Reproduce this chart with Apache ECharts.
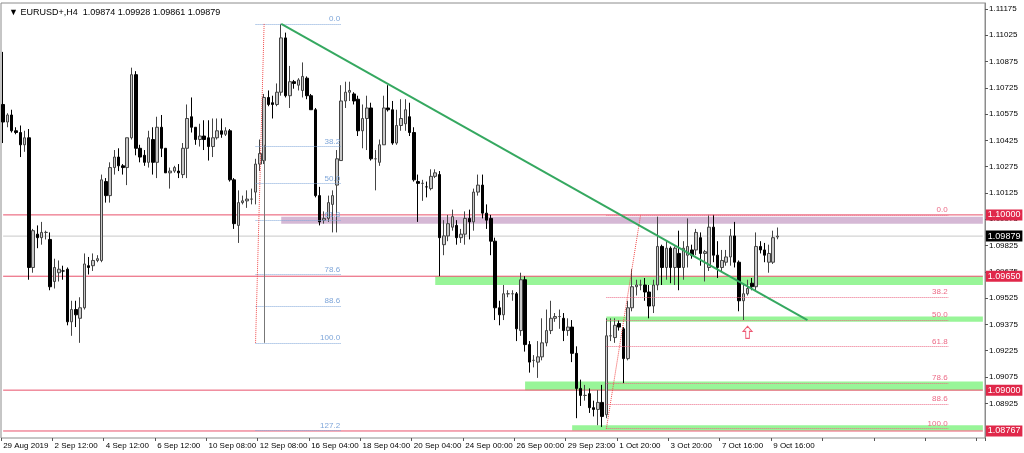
<!DOCTYPE html>
<html>
<head>
<meta charset="utf-8">
<script src="https://cdn.jsdelivr.net/npm/echarts@6/dist/echarts.min.js"></script>
<style>html,body{margin:0;padding:0;background:#fff}#main{width:1024px;height:453px}</style>
</head>
<body>
<div id="main"></div>
<script>
// candles: [open, close, low, high]
var candles = [
[1.1063,1.1053,1.1041,1.1093],[1.1053,1.1057,1.1050,1.1058],[1.1057,1.1048,1.1047,1.1060],[1.1048,1.1047,1.1046,1.1050],
[1.1047,1.1040,1.1033,1.1051],[1.1040,1.1044,1.1036,1.1048],[1.1044,1.0970,1.0963,1.1049],[1.0970,1.0991,1.0967,1.0992],
[1.0989,1.0987,1.0981,1.0994],[1.0987,1.0990,1.0983,1.0996],[1.0990,1.0990,1.0986,1.0991],[1.0986,1.0959,1.0957,1.0990],
[1.0962,1.0970,1.0958,1.0975],[1.0967,1.0969,1.0962,1.0974],[1.0968,1.0968,1.0963,1.0971],[1.0969,1.0939,1.0937,1.0970],
[1.0939,1.0946,1.0931,1.0951],[1.0946,1.0943,1.0936,1.0951],[1.0941,1.0947,1.0927,1.0953],[1.0947,1.0972,1.0946,1.0978],
[1.0971,1.0970,1.0966,1.0976],[1.0971,1.0974,1.0968,1.0978],[1.0974,1.0975,1.0973,1.0977],[1.0974,1.1020,1.0973,1.1023],
[1.1019,1.1011,1.1007,1.1021],[1.1011,1.1027,1.1007,1.1030],[1.1027,1.1033,1.1023,1.1037],[1.1033,1.1028,1.1025,1.1038],
[1.1028,1.1027,1.1023,1.1029],[1.1027,1.1044,1.1017,1.1044],[1.1044,1.1080,1.1043,1.1084],[1.1080,1.1038,1.1034,1.1082],
[1.1038,1.1033,1.1030,1.1040],[1.1034,1.1030,1.1028,1.1037],[1.1030,1.1044,1.1027,1.1048],[1.1043,1.1030,1.1023,1.1050],
[1.1030,1.1050,1.1021,1.1056],[1.1050,1.1038,1.1033,1.1057],[1.1038,1.1024,1.1024,1.1038],[1.1024,1.1025,1.1015,1.1027],
[1.1025,1.1027,1.1024,1.1028],[1.1025,1.1024,1.1021,1.1029],[1.1023,1.1038,1.1021,1.1041],[1.1038,1.1055,1.1021,1.1063],
[1.1056,1.1050,1.1047,1.1067],[1.1050,1.1043,1.1040,1.1050],[1.1043,1.1045,1.1039,1.1052],[1.1045,1.1043,1.1037,1.1054],
[1.1044,1.1039,1.1031,1.1054],[1.1039,1.1044,1.1033,1.1055],[1.1044,1.1048,1.1043,1.1055],[1.1048,1.1046,1.1044,1.1055],
[1.1046,1.1048,1.1045,1.1050],[1.1048,1.1020,1.1019,1.1049],[1.1020,1.0995,1.0992,1.1021],[1.0994,1.1007,1.0984,1.1014],
[1.1007,1.1008,1.1006,1.1011],[1.1008,1.1009,1.1004,1.1014],[1.1009,1.1009,1.1006,1.1015],[1.1013,1.1029,1.1006,1.1032],
[1.1029,1.1035,1.1025,1.1043],[1.1031,1.1067,1.1029,1.1069],[1.1067,1.1063,1.1062,1.1071],[1.1064,1.1063,1.1055,1.1068],
[1.1063,1.1070,1.1062,1.1075],[1.1070,1.1101,1.1068,1.1109],[1.1101,1.1068,1.1067,1.1104],[1.1068,1.1076,1.1061,1.1085],
[1.1076,1.1075,1.1072,1.1077],[1.1074,1.1077,1.1071,1.1078],[1.1071,1.1079,1.1067,1.1087],[1.1078,1.1068,1.1066,1.1079],
[1.1068,1.1060,1.1060,1.1069],[1.1060,1.1011,1.1010,1.1061],[1.1011,1.0996,1.0994,1.1016],[1.0997,1.0998,1.0995,1.1002],
[1.0998,1.1007,1.0996,1.1011],[1.1006,1.1011,1.0990,1.1014],[1.1017,1.1032,1.0990,1.1037],[1.1031,1.1065,1.1031,1.1074],
[1.1065,1.1070,1.1061,1.1076],[1.1070,1.1071,1.1065,1.1076],[1.1069,1.1065,1.1063,1.1070],[1.1066,1.1048,1.1045,1.1068],
[1.1048,1.1055,1.1038,1.1063],[1.1055,1.1061,1.1037,1.1068],[1.1061,1.1032,1.1031,1.1064],[1.1032,1.1032,1.1014,1.1037],
[1.1030,1.1040,1.1028,1.1043],[1.1040,1.1061,1.1040,1.1068],[1.1061,1.1060,1.1059,1.1074],[1.1060,1.1041,1.1040,1.1065],
[1.1041,1.1051,1.1040,1.1060],[1.1051,1.1055,1.1048,1.1066],[1.1052,1.1060,1.1048,1.1066],[1.1056,1.1047,1.1045,1.1064],
[1.1047,1.1020,1.1019,1.1050],[1.1019,1.1018,1.0996,1.1023],[1.1018,1.1018,1.1008,1.1020],[1.1016,1.1016,1.1010,1.1019],
[1.1015,1.1022,1.1014,1.1026],[1.1022,1.1024,1.1021,1.1026],[1.1023,1.0987,1.0965,1.1025],[1.0983,1.0988,1.0977,1.0997],
[1.0988,1.0995,1.0985,1.1000],[1.0993,1.0999,1.0991,1.1003],[1.0994,1.0987,1.0983,1.0997],[1.0987,1.0989,1.0984,1.0992],
[1.0989,1.0998,1.0983,1.1002],[1.0998,1.0996,1.0986,1.1003],[1.0996,1.1013,1.0991,1.1015],[1.1013,1.1017,1.1011,1.1023],
[1.1017,1.1001,1.0998,1.1023],[1.1001,1.0997,1.0992,1.1006],[1.0998,1.0985,1.0977,1.1000],[1.0985,1.0947,1.0940,1.0987],
[1.0947,1.0943,1.0937,1.0951],[1.0943,1.0955,1.0940,1.0960],[1.0955,1.0955,1.0953,1.0957],[1.0955,1.0955,1.0951,1.0957],
[1.0955,1.0935,1.0928,1.0956],[1.0934,1.0963,1.0931,1.0967],[1.0963,1.0926,1.0922,1.0965],[1.0926,1.0916,1.0910,1.0928],
[1.0917,1.0917,1.0913,1.0920],[1.0916,1.0919,1.0907,1.0928],[1.0919,1.0927,1.0917,1.0941],[1.0927,1.0934,1.0925,1.0946],
[1.0934,1.0941,1.0932,1.0951],[1.0941,1.0942,1.0939,1.0944],[1.0942,1.0942,1.0935,1.0946],[1.0941,1.0934,1.0928,1.0944],
[1.0934,1.0936,1.0931,1.0941],[1.0936,1.0921,1.0916,1.0940],[1.0921,1.0901,1.0884,1.0925],[1.0901,1.0897,1.0891,1.0906],
[1.0897,1.0897,1.0894,1.0903],[1.0898,1.0890,1.0887,1.0901],[1.0890,1.0889,1.0885,1.0894],[1.0889,1.0893,1.0880,1.0900],
[1.0893,1.0885,1.0879,1.0903],[1.0886,1.0931,1.0884,1.0941],[1.0931,1.0931,1.0928,1.0941],[1.0930,1.0937,1.0927,1.0941],
[1.0938,1.0936,1.0934,1.0940],[1.0935,1.0918,1.0904,1.0936],[1.0918,1.0947,1.0917,1.0951],[1.0947,1.0959,1.0945,1.0969],
[1.0959,1.0960,1.0954,1.0963],[1.0960,1.0960,1.0957,1.0963],[1.0960,1.0956,1.0951,1.0964],[1.0956,1.0948,1.0941,1.0960],
[1.0948,1.0960,1.0944,1.0963],[1.0960,1.0982,1.0957,1.0999],[1.0982,1.0970,1.0960,1.0983],[1.0970,1.0981,1.0963,1.0985],
[1.0981,1.0970,1.0961,1.0982],[1.0970,1.0981,1.0960,1.0982],[1.0978,1.0970,1.0957,1.0991],[1.0970,1.0981,1.0963,1.0985],
[1.0977,1.0982,1.0970,1.0998],[1.0980,1.0977,1.0975,1.0983],[1.0980,1.0990,1.0977,1.0992],[1.0987,1.0978,1.0971,1.0990],
[1.0978,1.0979,1.0962,1.0980],[1.0970,1.0993,1.0968,1.1000],[1.0993,1.0977,1.0973,1.1000],[1.0977,1.0970,1.0964,1.0985],
[1.0970,1.0974,1.0968,1.0980],[1.0973,1.0976,1.0971,1.0980],[1.0976,1.0988,1.0971,1.0992],[1.0988,1.0973,1.0970,1.0996],
[1.0973,1.0951,1.0945,1.0974],[1.0951,1.0955,1.0940,1.0961],[1.0955,1.0958,1.0954,1.0963],[1.0961,1.0959,1.0957,1.0964],
[1.0959,1.0982,1.0957,1.0990],[1.0982,1.0980,1.0978,1.0985],[1.0980,1.0977,1.0973,1.0984],[1.0973,1.0978,1.0967,1.0983],
[1.0973,1.0987,1.0972,1.0991],[1.09874,1.09879,1.09861,1.09928]
];
var totalSlots = 230;
var timeLabels = ['29 Aug 2019','2 Sep 12:00','4 Sep 12:00','6 Sep 12:00','10 Sep 08:00','12 Sep 08:00','16 Sep 04:00',
  '18 Sep 04:00','20 Sep 04:00','24 Sep 00:00','26 Sep 00:00','29 Sep 23:00','1 Oct 20:00','3 Oct 20:00','7 Oct 16:00','9 Oct 16:00'];
var priceTicks = [1.11175,1.11025,1.10875,1.10725,1.10575,1.10425,1.10275,1.10125,1.09975,1.09825,1.09675,1.09525,1.09375,1.09225,1.09075,1.08925];
var redLevels = [1.10000, 1.09650, 1.09000, 1.08767];
var lastPrice = 1.09879;
var trendLine = [[65, 1.1109], [188, 1.0940]];
var fibo1Names = ['0.0','38.2','50.0','61.8','78.6','88.6','100.0','127.2'];
var fibo1Prices = [1.1109,1.1039,1.1018,1.0997,1.0966,1.0948,1.0927,1.0877];
var fibo1Range = [59, 79];
var fibo1Diag = [[59, 1.0927], [61, 1.1109]];
var fibo2Names = ['0.0','38.2','50.0','61.8','78.6','88.6','100.0'];
var fibo2Prices = [1.1000,1.0953,1.0940,1.0925,1.0904,1.0892,1.0878];
var fibo2Range = [141, 221];
var fibo2Diag = [[141, 1.0878], [148.7, 1.1000]];
// zones: [startIndex, top, bottom]
var purpleZone = [64.5, 1.0999, 1.0995];
var greenZones = [[101, 1.0965, 1.0960], [141, 1.0942, 1.0939], [122, 1.0905, 1.0900], [133, 1.0880, 1.0877]];
var arrowPoint = [174, 1.0933];

var cats = [];
for (var i = 0; i < totalSlots; i++) cats.push(i % 12 === 0 && timeLabels[i / 12] ? timeLabels[i / 12] : '');

var font = '"Liberation Sans", Arial, sans-serif';
function seg(a, b, style, label) {
  return [{ coord: a, lineStyle: style, label: label }, { coord: b, lineStyle: style, label: label }];
}
function levelSeries(p, color, bg, z) {
  return { type: 'line', data: [[0, p], [totalSlots - 1, p]], symbol: 'none', z: z, silent: true,
    lineStyle: { color: color, width: 1 },
    endLabel: { show: true, formatter: p.toFixed(5), color: '#fff', backgroundColor: bg,
      padding: [1, 2], fontSize: 9, fontFamily: font, distance: 3 } };
}

function fiboLines(names, prices, range, color) {
  return prices.map(function (p, k) {
    return seg([range[0], p], [range[1], p], { color: color, type: 'dotted', width: 1 },
      { show: true, position: 'insideEndTop', formatter: names[k], color: color, fontSize: 8, fontFamily: font, distance: 1 });
  });
}
var noLabel = { show: false };
var fiboData = fiboLines(fibo1Names, fibo1Prices, fibo1Range, '#7fa6d9').concat(fiboLines(fibo2Names, fibo2Prices, fibo2Range, '#ec6a86'));
fiboData.push(seg(fibo1Diag[0], fibo1Diag[1], { color: '#f04a4a', type: 'dotted', width: 1 }, noLabel));
fiboData.push(seg(fibo2Diag[0], fibo2Diag[1], { color: '#f04a4a', type: 'dotted', width: 1 }, noLabel));
fiboData.push(seg([60.5, 1.1040], [60.5, 1.0927], { color: '#777', type: 'solid', width: 1 }, noLabel));

var areas = [[{ xAxis: purpleZone[0], yAxis: purpleZone[1], itemStyle: { color: '#d5b8d5' } }, { xAxis: totalSlots - 1, yAxis: purpleZone[2] }]];
greenZones.forEach(function (z) {
  areas.push([{ xAxis: z[0], yAxis: z[1], itemStyle: { color: '#98f598' } }, { xAxis: totalSlots - 1, yAxis: z[2] }]);
});

var series = [
  { type: 'candlestick', data: candles, barWidth: 3, z: 3,
    itemStyle: { color: '#c8c8c8', color0: '#000', borderColor: '#444', borderColor0: '#000', borderWidth: 1 },
    markArea: { silent: true, data: areas },
    markLine: { silent: true, symbol: 'none', data: fiboData } },
  levelSeries(lastPrice, '#c8c8c8', '#000', 2)
];
redLevels.forEach(function (p) { series.push(levelSeries(p, '#e8506a', '#e0284a', 2)); });
series.push({ type: 'line', data: trendLine, symbol: 'none', lineStyle: { color: '#35a860', width: 2 }, z: 5 });
series.push({ type: 'scatter', data: [arrowPoint], symbolSize: [9, 12],
  symbol: 'path://M5,0 L10,5 L7,5 L7,12 L3,12 L3,5 L0,5 Z',
  itemStyle: { color: '#fff', borderColor: '#e83050', borderWidth: 1 } });

var chart = echarts.init(document.getElementById('main'));
chart.setOption({
  animation: false,
  title: { text: '\u25BC EURUSD+,H4  1.09874 1.09928 1.09861 1.09879', left: 4, top: 3,
    textStyle: { fontSize: 9, fontWeight: 'normal', color: '#000', fontFamily: font } },
  grid: { left: 1, right: 39, top: 3, bottom: 15, show: true, borderColor: '#8c8c8c', borderWidth: 1 },
  xAxis: { type: 'category', data: cats, boundaryGap: true,
    axisLine: { show: false },
    axisTick: { show: true, length: 3, lineStyle: { color: '#555' }, interval: function (i) { return i % 12 === 0; } },
    axisLabel: { interval: function (i) { return i % 12 === 0; }, fontSize: 8, color: '#000', fontFamily: font, align: 'left', margin: 4 },
    splitLine: { show: false } },
  yAxis: { type: 'value', position: 'right', min: 1.08727, max: 1.11209, scale: true,
    axisLine: { show: true, lineStyle: { color: '#8c8c8c' } },
    axisTick: { show: true, length: 3, customValues: priceTicks, lineStyle: { color: '#555' } },
    axisLabel: { customValues: priceTicks, formatter: function (v) { return v.toFixed(5); }, fontSize: 8, color: '#000', fontFamily: font, margin: 4 },
    splitLine: { show: false } },
  series: series
});
</script>
</body>
</html>
